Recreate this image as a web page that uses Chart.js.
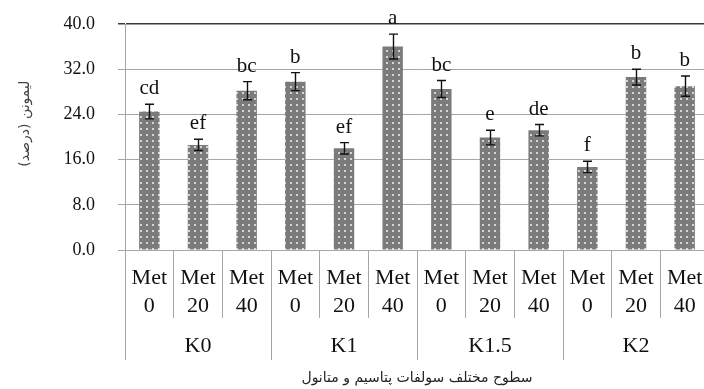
<!DOCTYPE html>
<html>
<head>
<meta charset="utf-8">
<script src="https://cdn.jsdelivr.net/npm/chart.js@4.4.1/dist/chart.umd.min.js"></script>
<style>
  html, body { margin: 0; padding: 0; background: #fff; overflow: hidden; }
  #wrap { position: relative; width: 709px; height: 389px; }
</style>
</head>
<body>
<div id="wrap"><canvas id="chart"></canvas></div>
<script>
// Treatments: methanol level (inner row) within potassium sulfate level (outer row)
const categories = [
  ['Met', '0'], ['Met', '20'], ['Met', '40'],
  ['Met', '0'], ['Met', '20'], ['Met', '40'],
  ['Met', '0'], ['Met', '20'], ['Met', '40'],
  ['Met', '0'], ['Met', '20'], ['Met', '40']
];
const groups = ['K0', 'K1', 'K1.5', 'K2'];

// Limonene content (%) with standard error and Duncan grouping letters
const limonene = [24.5, 18.6, 28.2, 29.8, 18.0, 36.0, 28.5, 19.9, 21.2, 14.7, 30.6, 29.0];
const errors   = [1.3, 1.0, 1.6, 1.6, 1.0, 2.2, 1.5, 1.3, 1.0, 1.0, 1.4, 1.8];
const letters  = ['cd', 'ef', 'bc', 'b', 'ef', 'a', 'bc', 'e', 'de', 'f', 'b', 'b'];

const yTicks = [0, 8, 16, 24, 32, 40];
const yTitle = 'لیمونن (درصد)';
const xTitle = 'سطوح مختلف سولفات پتاسیم و متانول';

const SERIF = '"Liberation Serif", "Times New Roman", serif';
const PERSIAN = '"DejaVu Sans", sans-serif';
const RLM = '\u200F';
const NBSP = '\u00A0';

// Grey fill sprinkled with light dots
function dotPattern() {
  const c = document.createElement('canvas');
  c.width = 6; c.height = 6;
  const g = c.getContext('2d');
  g.fillStyle = '#7b7b7b';
  g.fillRect(0, 0, 6, 6);
  g.fillStyle = '#d4d4d4';
  g.fillRect(2, 2, 2, 2);
  return g.createPattern(c, 'repeat');
}

// Error whiskers plus significance letters above each bar
const errorBars = {
  id: 'errorBars',
  afterDatasetsDraw(chart) {
    const { ctx } = chart;
    const y = chart.scales.y;
    const meta = chart.getDatasetMeta(0);
    ctx.save();
    ctx.strokeStyle = '#111';
    ctx.lineWidth = 1.4;
    ctx.fillStyle = '#111';
    ctx.font = '21px ' + SERIF;
    ctx.textAlign = 'center';
    ctx.textBaseline = 'alphabetic';
    meta.data.forEach((bar, i) => {
      const hi = y.getPixelForValue(limonene[i] + errors[i]);
      const lo = y.getPixelForValue(limonene[i] - errors[i]);
      const x = Math.round(bar.x) + 0.5;
      ctx.beginPath();
      ctx.moveTo(x, hi); ctx.lineTo(x, lo);
      ctx.moveTo(x - 4.5, hi); ctx.lineTo(x + 4.5, hi);
      ctx.moveTo(x - 4.5, lo); ctx.lineTo(x + 4.5, lo);
      ctx.stroke();
      ctx.fillText(letters[i], bar.x, hi - 10);
    });
    ctx.restore();
  }
};

const sepColor = '#a6a6a6';

new Chart(document.getElementById('chart'), {
  type: 'bar',
  data: {
    labels: categories,
    datasets: [{
      data: limonene,
      backgroundColor: dotPattern(),
      borderWidth: 0,
      barPercentage: 0.42,
      categoryPercentage: 1,
      xAxisID: 'x',
      yAxisID: 'y'
    }]
  },
  options: {
    responsive: true,
    maintainAspectRatio: false,
    devicePixelRatio: 1,
    animation: false,
    layout: { padding: { top: 24, left: 0, right: 0, bottom: 0 } },
    plugins: {
      legend: { display: false },
      tooltip: { enabled: false },
      title: {
        display: true,
        text: xTitle + RLM,
        position: 'bottom',
        fullSize: false,
        color: '#222',
        font: { family: PERSIAN, size: 14, weight: 'normal' },
        padding: { top: 9.6, bottom: 2.6 }
      }
    },
    scales: {
      x: {
        type: 'category',
        axis: 'x',
        position: 'bottom',
        offset: true,
        grid: { offset: true, drawOnChartArea: false, tickLength: 68, color: sepColor, lineWidth: 1 },
        border: { display: true, color: sepColor, width: 1 },
        ticks: {
          color: '#111',
          font: { family: SERIF, size: 22, lineHeight: '28px' },
          padding: -54,
          maxRotation: 0, minRotation: 0, autoSkip: false
        },
        afterFit(s) { s.height = 68; }
      },
      groups: {
        type: 'category',
        axis: 'x',
        position: 'bottom',
        labels: groups,
        offset: true,
        grid: { offset: true, drawOnChartArea: false, tickLength: 42, color: sepColor, lineWidth: 1 },
        border: { display: false },
        ticks: {
          color: '#111',
          font: { family: SERIF, size: 22, lineHeight: '28px' },
          padding: -28,
          maxRotation: 0, minRotation: 0, autoSkip: false
        },
        afterFit(s) { s.height = 42; }
      },
      y: {
        min: yTicks[0],
        max: yTicks[yTicks.length - 1],
        ticks: {
          stepSize: yTicks[1] - yTicks[0],
          callback: v => Number(v).toFixed(1),
          color: '#111',
          font: { family: SERIF, size: 18 },
          padding: 23
        },
        grid: {
          color: c => (c.tick && c.tick.value === yTicks[yTicks.length - 1]) ? '#3a3a3a' : sepColor,
          lineWidth: c => (c.tick && c.tick.value === yTicks[yTicks.length - 1]) ? 1.5 : 1,
          tickLength: 7
        },
        border: { color: sepColor, width: 1 },
        title: {
          display: true,
          text: NBSP.repeat(6) + yTitle + RLM,
          color: '#444',
          font: { family: PERSIAN, size: 14 },
          padding: { top: 16.5, bottom: 0 }
        },
        afterFit(s) {
          s.width = 125;
          // only half a label of headroom above the top tick and below the bottom one
          s.paddingTop = 11;
          s.paddingBottom = 11;
        }
      }
    }
  },
  plugins: [errorBars]
});
</script>
</body>
</html>
